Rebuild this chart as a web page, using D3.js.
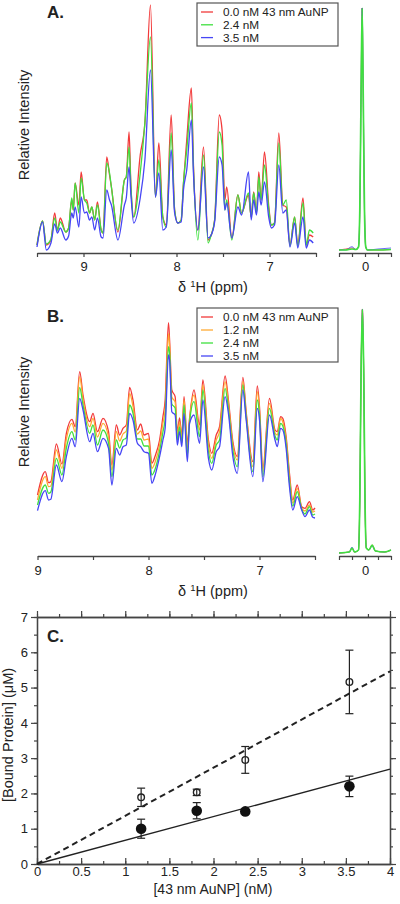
<!DOCTYPE html>
<html><head><meta charset="utf-8">
<script src="https://cdn.jsdelivr.net/npm/d3@7"></script>
<style>
body{margin:0;background:#fff}
svg{display:block}
text{font-family:"Liberation Sans",Arial,Helvetica,sans-serif;fill:#222}
</style>
</head><body>
<script>
// ---------------- Panel A data (ppm, relative intensity) ----------------
const ppmA = [9.50,9.44,9.40,9.35,9.31,9.28,9.25,9.19,9.16,9.126,9.11,9.09,9.05,9.025,8.99,8.965,8.935,8.91,8.88,8.85,8.81,8.79,8.75,8.72,8.70,8.63,8.56,8.54,8.51,8.49,8.46,8.39,8.34,8.28,8.226,8.19,8.147,8.11,8.057,8.02,7.986,7.95,7.925,7.89,7.84,7.817,7.77,7.71,7.66,7.627,7.59,7.54,7.51,7.48,7.46,7.405,7.34,7.30,7.226,7.197,7.17,7.14,7.115,7.09,7.054,7.007,6.98,6.946,6.90,6.857,6.82,6.78,6.73,6.696,6.64,6.605,6.57,6.53];
const redA   = [5,29,5,10,37,20,32,18,22,50,40,67,45,78,50,50,37,43,30,48,20,17,93,75,63,18,70,73,118,63,33,95,127,245,53,107,33,25,135,40,27,30,67,110,162,83,20,103,10,15,30,135,120,50,63,12,55,37,55,33,58,37,78,50,98,43,25,27,117,45,43,5,33,5,52,5,15,13];
const greenA = [5,29,6,11,32,20,28,18,22,52,40,67,37,72,50,47,37,43,30,45,20,17,87,77,63,20,70,73,103,63,33,77,127,213,53,90,33,23,117,40,27,30,67,100,147,80,10,95,7,15,30,118,105,40,50,10,55,37,57,33,57,37,73,50,85,40,25,27,107,45,50,4,33,4,47,5,20,17];
const blueA  = [3,28,0,7,26,17,22,10,14,37,32,43,23,53,37,38,30,33,20,32,13,12,60,50,45,10,45,52,83,55,27,52,90,180,53,77,20,23,100,37,27,28,60,80,130,75,20,83,12,15,28,93,85,40,47,12,43,35,78,30,50,35,58,45,68,32,22,25,85,37,40,3,27,2,33,2,10,7];
// reference peak inset (A)
const ppmAi   = [0.2,0.15,0.10,0.07,0.05,0.04,0.03,0.022,0.014,0.004,-0.006,-0.02,-0.1,-0.2];
const redAi   = [0,1,2,0.5,3,40,160,242,160,40,3,0,0,0.5];
const greenAi = [0,0,1,0.5,3,40,160,242,160,40,3,0,0,0.5];
const blueAi  = [0,0,3.3,0.5,3,40,160,242,160,40,3,0,1,2];
const labelsA = ["0.0 nM 43 nm AuNP","2.4 nM","3.5 nM"];

// ---------------- Panel B data ----------------
const ppmB = [9.00,8.93,8.90,8.88,8.83,8.78,8.74,8.69,8.66,8.62,8.59,8.53,8.50,8.46,8.41,8.36,8.33,8.29,8.26,8.23,8.20,8.17,8.14,8.10,8.07,8.04,8.00,7.97,7.94,7.90,7.87,7.85,7.82,7.81,7.79,7.76,7.74,7.72,7.70,7.68,7.65,7.63,7.59,7.54,7.51,7.46,7.43,7.39,7.36,7.31,7.28,7.24,7.20,7.15,7.12,7.06,7.02,7.00,6.97,6.91,6.86,6.84,6.81,6.79,6.76,6.73,6.70,6.66,6.62,6.59,6.55,6.52,6.50];
const redB    = [65,88.3,77.3,78.3,116,96,126.7,140.7,133.3,188.3,165,138.3,146.7,128.3,141.7,128.3,95,135,125,131.7,135,172.7,160,130,136,125,126.7,96.7,104,120,143.3,160,237.3,220,170,163.3,128.3,142,123.3,163.3,116.7,141.7,170,135,180,120,106.7,125,133.3,184,160,118.3,103.3,182.7,148.3,98.3,174,153.3,91.7,161.7,130,128.3,143.3,141.7,123.3,86.7,60,75,53.3,51.7,58.3,50,52];
const orangeB = [60,83.3,73.3,74,110,91.7,121,136.7,128,183.3,161,133.3,141.7,123,136.7,123,90,128.3,119,126,129,166.7,154,126,129,120,121,91.7,98,115,137,150,226.7,214,163,158,124,138,120,160,111.7,140,165,130,175,115,101.7,120,128.3,178.3,156,115,100,178.3,146,93.3,168.3,149,88.3,156.7,127,125,141.7,138,120,83,57,71.7,52,49,55,48,49];
const greenB  = [55,75,66.7,68,101.7,85,112,128.3,120,172.7,155,126.7,135,115,130,117,83.3,120,112,120,122,155,147,121,121,114,114,85,91,109,128,141,213.3,207,156,152,120,133,117,155,105,138,158.3,123.3,170,108.3,96.7,115,120,171.7,151,110,93.3,175,143,88.3,160,145,83.3,151.7,124,120,136.7,134,116,78,54,68.3,51,46,53.3,45,46];
const blueB   = [49.3,69.3,60,60.7,95,78.3,103.3,121.7,113.3,161.7,150,118.3,126.7,108.3,121.7,111.7,75,111.7,105,113.3,115,146.7,140,116.7,113.3,108.3,106.7,76.7,85,103.3,120,131.7,205,200,148.3,145,115,128.3,113.3,146.7,98.3,136.7,145,116.7,160,101.7,90,108.3,113.3,163.3,146.7,103.3,86.7,170,140,83.3,151.7,140,78.3,145,120,113.3,131.7,130,111.7,73.3,50,63.3,50,43.3,50,42.7,42];
// reference peak inset (B)
const ppmBi    = [0.2,0.12,0.10,0.08,0.05,0.04,0.03,0.02,0.01,0.0,-0.01,-0.03,-0.055,-0.08,-0.15,-0.2];
const redBi    = [7,8,12,8,10,60,190,250.7,190,60,12,10,15,9,8,10];
const orangeBi = [7,8,12,8,10,60,190,250.7,190,60,12,10,15,9,8,10];
const greenBi  = [7,8,12,8,10,60,190,250.7,190,60,12,10,15,9,8,10];
const blueBi   = [7,8,13,8,10,60,190,250.7,190,60,12,10,14,9,8,10];
const labelsB = ["0.0 nM 43 nm AuNP","1.2 nM","2.4 nM","3.5 nM"];

// ---------------- Panel C data ----------------
const auNP       = [1.18,1.81,2.36,3.54];
const openVals   = [1.89,2.03,2.95,5.16];
const openErr    = [0.26,0.09,0.38,0.9];
const filledVals = [1.0,1.51,1.49,2.2];
const filledErr  = [0.27,0.23,0.05,0.29];
const fitX       = [0,4];
const fitOpen    = [0,5.46];
const fitFilled  = [0,2.69];
const xTicksC    = [0,0.5,1,1.5,2,2.5,3,3.5,4];
const yTicksC    = [0,1,2,3,4,5,6,7];

const colRed="#f23a3a", colOrange="#ffaa33", colGreen="#3fe03f", colBlue="#4646f5";
const axisCol="#444";

const svg=d3.select("body").append("svg").attr("width",400).attr("height",904);

function styleAxis(g){
  g.select(".domain").attr("stroke",axisCol).attr("stroke-width",1.3);
  g.selectAll(".tick line").attr("stroke",axisCol).attr("stroke-width",1.2);
  g.selectAll(".tick text").attr("fill","#222").style("font-size","13px").style("font-family","'Liberation Sans',Arial,sans-serif");
}
function drawLine(g,xs,ys,xsc,ysc,col,w){
  const pts=xs.map((x,i)=>[xsc(x),ysc(ys[i])]);
  g.append("path").attr("d",d3.line().curve(d3.curveMonotoneX)(pts.slice().sort((a,b)=>a[0]-b[0])))
   .attr("fill","none").attr("stroke",col).attr("stroke-width",w||1.3).attr("stroke-linejoin","round");
}
function legend(x,y,w,h,labels,cols,step){
  const g=svg.append("g");
  g.append("rect").attr("x",x).attr("y",y).attr("width",w).attr("height",h).attr("fill","#fff").attr("stroke","#555").attr("stroke-width",1.2);
  labels.forEach((l,i)=>{
    const yy=y+9+i*step;
    g.append("line").attr("x1",x+4).attr("x2",x+16).attr("y1",yy).attr("y2",yy).attr("stroke",cols[i]).attr("stroke-width",1.3);
    g.append("text").attr("x",x+26).attr("y",yy+4).text(l).style("font-size","11.8px");
  });
}
function ylabel(x,y,t){
  svg.append("text").attr("transform",`translate(${x},${y}) rotate(-90)`).attr("text-anchor","middle").style("font-size","14.5px").text(t);
}

// ================= Panel A =================
const xA=d3.scaleLinear().domain([9.5,6.5]).range([37,316]);
const yA=d3.scaleLinear().domain([0,245]).range([250,5]);
const xAi=d3.scaleLinear().domain([0.2,-0.2]).range([339,391]);
const gA=svg.append("g");
drawLine(gA,ppmA,redA,xA,yA,colRed);
drawLine(gA,ppmA,greenA,xA,yA,colGreen);
drawLine(gA,ppmA,blueA,xA,yA,colBlue);
drawLine(gA,ppmAi,redAi,xAi,yA,colRed,0.8);
drawLine(gA,ppmAi,blueAi,xAi,yA,colBlue,0.8);
drawLine(gA,ppmAi,greenAi,xAi,yA,colGreen,1.7);
svg.append("g").attr("transform","translate(0,253)")
  .call(d3.axisBottom(xA).tickValues([9.5,9,8.5,8,7.5,7,6.5]).tickFormat(d=>Number.isInteger(d)?d:"").tickSizeInner(4).tickSizeOuter(0).tickPadding(5)).call(styleAxis);
svg.append("g").attr("transform","translate(0,253)")
  .call(d3.axisBottom(xAi).tickValues([0.2,0.1,0,-0.1,-0.2]).tickFormat(d=>d===0?"0":"").tickSizeInner(4).tickSizeOuter(0).tickPadding(5)).call(styleAxis);
svg.append("text").attr("x",213).attr("y",292).attr("text-anchor","middle").style("font-size","14.5px").html("δ <tspan dy='-5' font-size='9.5px'>1</tspan><tspan dy='5'>H (ppm)</tspan>");
ylabel(29,125,"Relative Intensity");
svg.append("text").attr("x",47).attr("y",18).style("font-size","17px").style("font-weight","bold").text("A.");
legend(197,3,141,43,labelsA,[colRed,colGreen,colBlue],12.8);

// ================= Panel B =================
const xB=d3.scaleLinear().domain([9,6.5]).range([37.5,315]);
const yB=d3.scaleLinear().domain([0,250]).range([560,310]);
const xBi=d3.scaleLinear().domain([0.2,-0.2]).range([339,391]);
const gB=svg.append("g");
drawLine(gB,ppmB,redB,xB,yB,colRed);
drawLine(gB,ppmB,orangeB,xB,yB,colOrange);
drawLine(gB,ppmB,greenB,xB,yB,colGreen);
drawLine(gB,ppmB,blueB,xB,yB,colBlue);
drawLine(gB,ppmBi,redBi,xBi,yB,colRed,0.8);
drawLine(gB,ppmBi,orangeBi,xBi,yB,colOrange,0.8);
drawLine(gB,ppmBi,blueBi,xBi,yB,colBlue,0.8);
drawLine(gB,ppmBi,greenBi,xBi,yB,colGreen,1.7);
svg.append("g").attr("transform","translate(0,556)")
  .call(d3.axisBottom(xB).tickValues([9,8.5,8,7.5,7,6.5]).tickFormat(d=>Number.isInteger(d)?d:"").tickSizeInner(4).tickSizeOuter(0).tickPadding(6)).call(styleAxis);
svg.append("g").attr("transform","translate(0,556)")
  .call(d3.axisBottom(xBi).tickValues([0.2,0.1,0,-0.1,-0.2]).tickFormat(d=>d===0?"0":"").tickSizeInner(4).tickSizeOuter(0).tickPadding(6)).call(styleAxis);
svg.append("text").attr("x",213).attr("y",596).attr("text-anchor","middle").style("font-size","14.5px").html("δ <tspan dy='-5' font-size='9.5px'>1</tspan><tspan dy='5'>H (ppm)</tspan>");
ylabel(29,412,"Relative Intensity");
svg.append("text").attr("x",47).attr("y",322).style("font-size","17px").style("font-weight","bold").text("B.");
legend(197,308,141,54,labelsB,[colRed,colOrange,colGreen,colBlue],13);

// ================= Panel C =================
const xC=d3.scaleLinear().domain([0,4]).range([37,390]);
const yC=d3.scaleLinear().domain([0,7]).range([864,617]);
const minorX=d3.range(0,4.001,0.25), minorY=d3.range(0,7.001,0.5);
// minor ticks
svg.append("g").attr("transform","translate(0,864)").call(d3.axisBottom(xC).tickValues(minorX).tickFormat("").tickSizeInner(-3).tickSizeOuter(0)).call(styleAxis);
svg.append("g").attr("transform","translate(0,617)").call(d3.axisTop(xC).tickValues(minorX).tickFormat("").tickSizeInner(3).tickSizeOuter(0)).call(styleAxis);
svg.append("g").attr("transform","translate(37,0)").call(d3.axisLeft(yC).tickValues(minorY).tickFormat("").tickSizeInner(3).tickSizeOuter(0)).call(styleAxis);
svg.append("g").attr("transform","translate(390,0)").call(d3.axisRight(yC).tickValues(minorY).tickFormat("").tickSizeInner(3).tickSizeOuter(0)).call(styleAxis);
// major ticks
svg.append("g").attr("transform","translate(0,864)").call(d3.axisBottom(xC).tickValues(xTicksC).tickFormat(d=>String(d)).tickSizeInner(-6).tickSizeOuter(0).tickPadding(3)).call(styleAxis);
svg.append("g").attr("transform","translate(0,617)").call(d3.axisTop(xC).tickValues(xTicksC).tickFormat("").tickSizeInner(6).tickSizeOuter(0)).call(styleAxis);
svg.append("g").attr("transform","translate(37,0)").call(d3.axisLeft(yC).tickValues(yTicksC).tickFormat(d=>String(d)).tickSizeInner(6).tickSizeOuter(0).tickPadding(3)).call(styleAxis);
svg.append("g").attr("transform","translate(390,0)").call(d3.axisRight(yC).tickValues(yTicksC).tickFormat("").tickSizeInner(6).tickSizeOuter(0)).call(styleAxis);

const gC=svg.append("g");
gC.append("path").attr("d",d3.line()(fitX.map((x,i)=>[xC(x),yC(fitOpen[i])]))).attr("stroke","#222").attr("stroke-width",2).attr("stroke-dasharray","6,4").attr("fill","none");
gC.append("path").attr("d",d3.line()(fitX.map((x,i)=>[xC(x),yC(fitFilled[i])]))).attr("stroke","#222").attr("stroke-width",1.4).attr("fill","none");
function errBars(vals,errs){
  auNP.forEach((x,i)=>{
    const cx=xC(x), y1=yC(vals[i]-errs[i]), y2=yC(vals[i]+errs[i]);
    gC.append("line").attr("x1",cx).attr("x2",cx).attr("y1",y1).attr("y2",y2).attr("stroke","#222").attr("stroke-width",1.2);
    [y1,y2].forEach(yy=>gC.append("line").attr("x1",cx-4).attr("x2",cx+4).attr("y1",yy).attr("y2",yy).attr("stroke","#222").attr("stroke-width",1.2));
  });
}
errBars(openVals,openErr);
errBars(filledVals,filledErr);
auNP.forEach((x,i)=>{
  gC.append("circle").attr("cx",xC(x)).attr("cy",yC(openVals[i])).attr("r",3.3).attr("fill","none").attr("stroke","#222").attr("stroke-width",1.4);
  gC.append("circle").attr("cx",xC(x)).attr("cy",yC(filledVals[i])).attr("r",5.3).attr("fill","#111");
});
svg.append("text").attr("x",47).attr("y",642).style("font-size","17px").style("font-weight","bold").text("C.");
svg.append("text").attr("x",213).attr("y",894).attr("text-anchor","middle").style("font-size","14px").text("[43 nm AuNP] (nM)");
ylabel(13,735,"[Bound Protein] (μM)");
</script>
</body></html>
